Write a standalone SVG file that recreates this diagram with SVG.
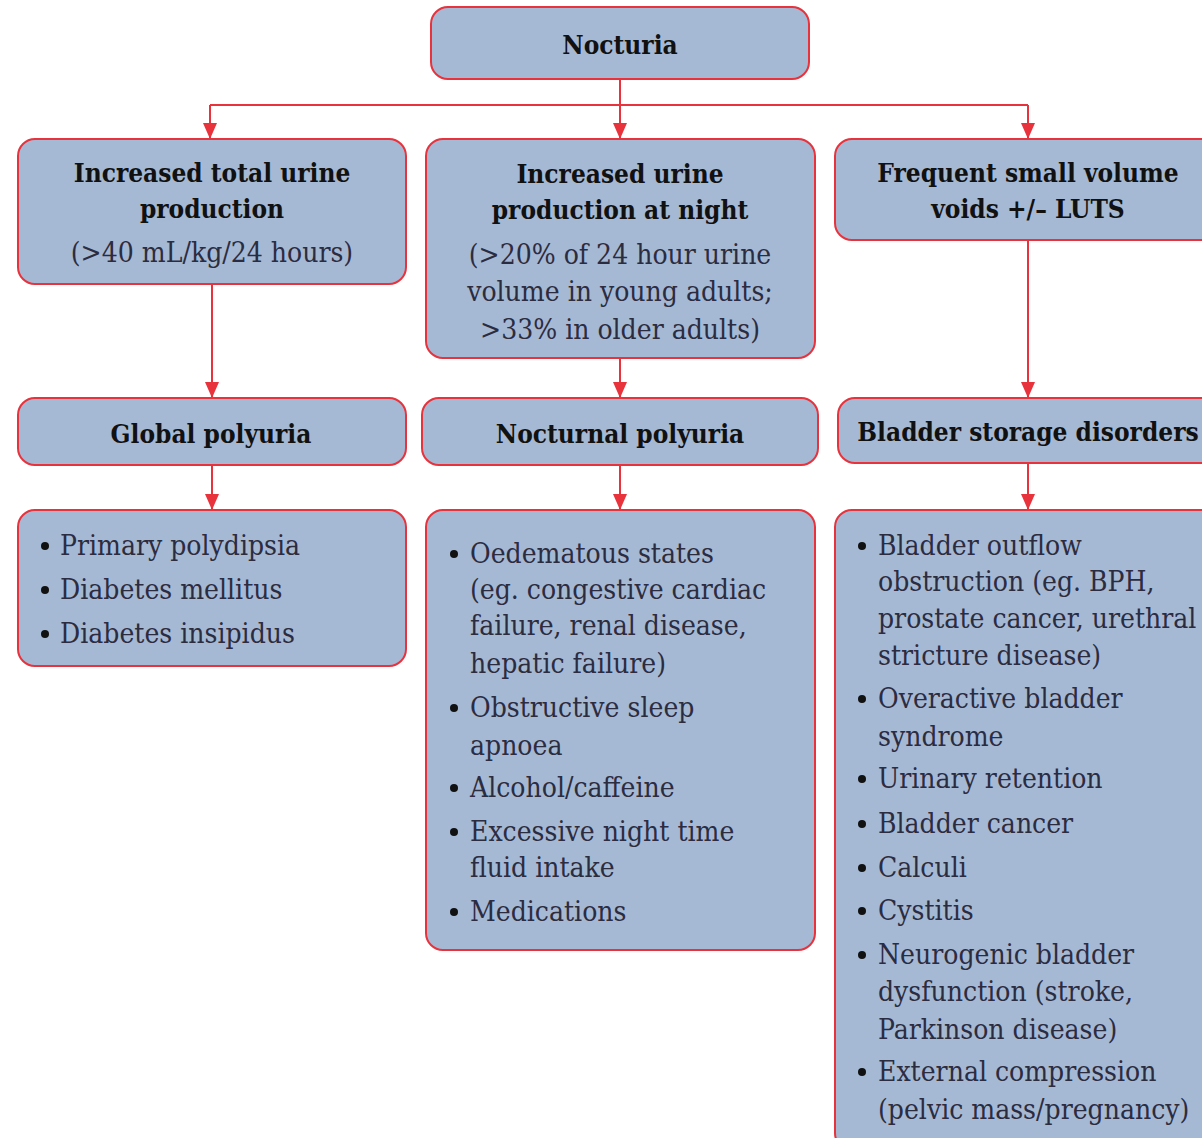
<svg xmlns="http://www.w3.org/2000/svg" width="1202" height="1138" viewBox="0 0 1202 1138">
<style>
.box{fill:#a5b9d5;stroke:#e8323c;stroke-width:2}
.b{font-family:"DejaVu Serif Condensed","DejaVu Serif",serif;font-stretch:condensed;font-weight:bold;font-size:26px;fill:#111;text-anchor:middle}
.r{font-family:"DejaVu Serif Condensed","DejaVu Serif",serif;font-stretch:condensed;font-size:28px;fill:#2c2c40}
.rc{text-anchor:middle}
.dot{fill:#111}
.line{stroke:#e8323c;stroke-width:2;fill:none}
</style>
<defs>
<marker id="ah" viewBox="0 0 16 14" refX="16" refY="7" markerWidth="16" markerHeight="14" markerUnits="userSpaceOnUse" orient="auto">
<path d="M0,0 L16,7 L0,14 z" fill="#e8323c"/>
</marker>
</defs>
<rect width="1202" height="1138" fill="#fff"/>
<g id="connectors">
<path class="line" d="M620,79 V105"/>
<path class="line" d="M210,105 H1028"/>
<path class="line" d="M210,105 V139" marker-end="url(#ah)"/>
<path class="line" d="M620,105 V139" marker-end="url(#ah)"/>
<path class="line" d="M1028,105 V139" marker-end="url(#ah)"/>
<path class="line" d="M212,284 V398" marker-end="url(#ah)"/>
<path class="line" d="M620,358 V398" marker-end="url(#ah)"/>
<path class="line" d="M1028,240 V398" marker-end="url(#ah)"/>
<path class="line" d="M212,465 V510" marker-end="url(#ah)"/>
<path class="line" d="M620,465 V510" marker-end="url(#ah)"/>
<path class="line" d="M1028,463 V510" marker-end="url(#ah)"/>
</g>
<g id="nocturia">
<rect class="box" x="431" y="7" width="378" height="72" rx="17"/>
<text class="b" x="620" y="54">Nocturia</text>
</g>
<g id="increased-total">
<rect class="box" x="18" y="139" width="388" height="145" rx="17"/>
<text class="b" x="212" y="182">Increased total urine</text>
<text class="b" x="212" y="218">production</text>
<text class="r rc" x="212" y="262">(&gt;40 mL/kg/24 hours)</text>
</g>
<g id="increased-night">
<rect class="box" x="426" y="139" width="389" height="219" rx="17"/>
<text class="b" x="620" y="183">Increased urine</text>
<text class="b" x="620" y="219">production at night</text>
<text class="r rc" x="620" y="264">(&gt;20% of 24 hour urine</text>
<text class="r rc" x="620" y="301">volume in young adults;</text>
<text class="r rc" x="620" y="339">&gt;33% in older adults)</text>
</g>
<g id="frequent-small">
<rect class="box" x="835" y="139" width="390" height="101" rx="17"/>
<text class="b" x="1028" y="182">Frequent small volume</text>
<text class="b" x="1028" y="218">voids +/– LUTS</text>
</g>
<g id="global-polyuria">
<rect class="box" x="18" y="398" width="388" height="67" rx="17"/>
<text class="b" x="211" y="443">Global polyuria</text>
</g>
<g id="nocturnal-polyuria">
<rect class="box" x="422" y="398" width="396" height="67" rx="17"/>
<text class="b" x="620" y="443">Nocturnal polyuria</text>
</g>
<g id="bladder-storage">
<rect class="box" x="838" y="398" width="390" height="65" rx="17"/>
<text class="b" x="1028" y="441">Bladder storage disorders</text>
</g>
<g id="global-causes">
<rect class="box" x="18" y="510" width="388" height="156" rx="17"/>
<g class="dot"><circle cx="45" cy="546" r="4"/><circle cx="45" cy="590" r="4"/><circle cx="45" cy="634" r="4"/></g>
<text class="r"><tspan x="60" y="555">Primary polydipsia</tspan><tspan x="60" y="599">Diabetes mellitus</tspan><tspan x="60" y="643">Diabetes insipidus</tspan></text>
</g>
<g id="nocturnal-causes">
<rect class="box" x="426" y="510" width="389" height="440" rx="17"/>
<g class="dot"><circle cx="454" cy="554" r="4"/><circle cx="454" cy="708" r="4"/><circle cx="454" cy="788" r="4"/><circle cx="454" cy="832" r="4"/><circle cx="454" cy="912" r="4"/></g>
<text class="r"><tspan x="470" y="563">Oedematous states</tspan><tspan x="470" y="599">(eg. congestive cardiac</tspan><tspan x="470" y="635">failure, renal disease,</tspan><tspan x="470" y="673">hepatic failure)</tspan><tspan x="470" y="717">Obstructive sleep</tspan><tspan x="470" y="755">apnoea</tspan><tspan x="470" y="797">Alcohol/caffeine</tspan><tspan x="470" y="841">Excessive night time</tspan><tspan x="470" y="877">fluid intake</tspan><tspan x="470" y="921">Medications</tspan></text>
</g>
<g id="bladder-causes">
<rect class="box" x="835" y="510" width="390" height="640" rx="17"/>
<g class="dot"><circle cx="862" cy="546" r="4"/><circle cx="862" cy="699" r="4"/><circle cx="862" cy="779" r="4"/><circle cx="862" cy="824" r="4"/><circle cx="862" cy="868" r="4"/><circle cx="862" cy="911" r="4"/><circle cx="862" cy="955" r="4"/><circle cx="862" cy="1072" r="4"/></g>
<text class="r"><tspan x="878" y="555">Bladder outflow</tspan><tspan x="878" y="591">obstruction (eg. BPH,</tspan><tspan x="878" y="628">prostate cancer, urethral</tspan><tspan x="878" y="665">stricture disease)</tspan><tspan x="878" y="708">Overactive bladder</tspan><tspan x="878" y="746">syndrome</tspan><tspan x="878" y="788">Urinary retention</tspan><tspan x="878" y="833">Bladder cancer</tspan><tspan x="878" y="877">Calculi</tspan><tspan x="878" y="920">Cystitis</tspan><tspan x="878" y="964">Neurogenic bladder</tspan><tspan x="878" y="1001">dysfunction (stroke,</tspan><tspan x="878" y="1039">Parkinson disease)</tspan><tspan x="878" y="1081">External compression</tspan><tspan x="878" y="1119">(pelvic mass/pregnancy)</tspan></text>
</g>
</svg>
